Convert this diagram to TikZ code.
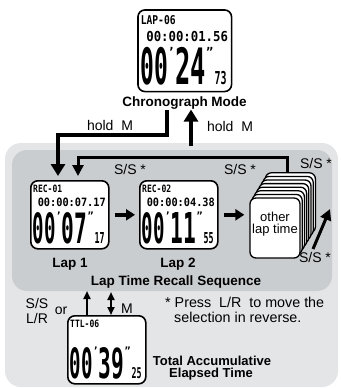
\documentclass[tikz,border=0pt]{standalone}
\usepackage{fontspec}
\setmainfont{Liberation Sans}
\newfontfamily\lcdfont{DejaVu Sans Mono}
\usetikzlibrary{arrows.meta,calc}
\definecolor{outergray}{HTML}{E3E5E7}
\definecolor{innergray}{HTML}{CACDD0}

\newcommand\lcdpanel[9]{%
\begin{scope}[shift={(#2,#3)},scale=#4,transform shape]
\node[lcdframe,anchor=north west] (#1) at (0,0) {};
\node[lcdtxt,anchor=north west] at (3,5) {\resizebox{29pt}{7.5pt}{#5}};
\node[lcdtxt,anchor=north east] at (76,18) {\resizebox{68pt}{8.5pt}{#6}};
\node[lcdtxt,anchor=north west] at (2.5,32) {\resizebox{23pt}{31pt}{#7}};
\node[lcdtxt,anchor=north west,font=\lcdfont\bfseries\fontsize{10}{10}\selectfont] at (25.3,31.5) {’};
\node[lcdtxt,anchor=north west] at (31.5,32) {\resizebox{25.5pt}{31pt}{#8}};
\node[lcdtxt,anchor=north west,font=\lcdfont\bfseries\fontsize{10}{10}\selectfont] at (57.5,31.5) {”};
\node[lcdtxt,anchor=south west] at (64.5,63.5) {\resizebox{10pt}{11pt}{#9}};
\end{scope}}

\begin{document}
\begin{tikzpicture}[x=1pt,y=-1pt,
 lcdframe/.style={draw,line width=1.6pt,fill=white,rounded corners=7pt,minimum width=78pt,minimum height=68pt,inner sep=0pt},
 lcdtxt/.style={inner sep=0pt,font=\lcdfont\bfseries},
 lbl/.style={inner sep=0pt,font=\fontsize{14}{16}\selectfont},
 blbl/.style={inner sep=0pt,font=\bfseries\fontsize{13.5}{15}\selectfont},
 card/.style={draw,line width=1.3pt,fill=white,rounded corners=6pt,minimum width=50pt,minimum height=60pt,inner sep=0pt},
 bigarrow/.style={line width=4.5pt,-{Triangle[width=14pt,length=12pt]}},
 midarrow/.style={line width=3pt,-{Triangle[width=11pt,length=11pt]}},
 laparrow/.style={line width=4pt,-{Triangle[width=11pt,length=9pt]}},
 thinarrow/.style={line width=2.2pt,-{Triangle[width=7pt,length=8pt]}},
 dblarrow/.style={line width=2.2pt,{Triangle[width=7pt,length=8pt]}-{Triangle[width=7pt,length=8pt]}}
]
\useasboundingbox (0,0) rectangle (340,388);
\fill[outergray,rounded corners=16pt] (5,143) rectangle (338,387);
\fill[innergray,rounded corners=15pt] (12,150) rectangle (332,291);

% chronograph
\lcdpanel{chrono}{137}{9}{1.2}{LAP-06}{00:00:01.56}{00}{24}{73}
\node[blbl,anchor=base] (chronolab) at (184.5,106.5) {Chronograph Mode};

\coordinate (hmA) at (167,135);
\coordinate (hmB) at (58,135);
\coordinate (upA) at (191,146);

% laps
\lcdpanel{lap1}{30}{180}{1}{REC-01}{00:00:07.17}{00}{07}{17}
\lcdpanel{lap2}{139}{180}{1}{REC-02}{00:00:04.38}{00}{11}{55}

\draw[bigarrow,shorten >=4pt] (chronolab.south -| hmA) -- (hmA) -- (hmB) -- (lap1.north -| hmB);
\node[lbl,anchor=base] at (110,130) {hold\ \ M};
\draw[bigarrow] (upA) -- (chronolab.south -| upA);
\node[lbl,anchor=base] at (230,131) {hold\ \ M};

% stack
\foreach \i in {7,6,...,1}{\node[card] (card\i) at ({275+2.2*\i},{228-3.6*\i}) {};}
\node[card] (other) at (275,228) {};
\node[inner sep=0pt,align=center,font=\fontsize{13}{12.5}\selectfont] at (275,224) {other\\lap time};

\coordinate (ssA) at (287,157);
\coordinate (ssB) at (78,157);
\draw[midarrow,shorten >=4pt] (card7.north -| ssA) -- (ssA) -- (ssB) -- (lap1.north -| ssB);
\node[lbl,anchor=base] at (130,174) {S/S *};
\node[lbl,anchor=base] at (240,174) {S/S *};
\node[lbl,anchor=base] at (316,168) {S/S *};

\draw[laparrow,shorten <=5pt,shorten >=4pt] (lap1.east) -- (lap2.west);
\draw[laparrow,shorten <=5pt,shorten >=5pt] (lap2.east) -- (lap2.east -| other.west);

\coordinate (sbA) at (313,249);
\coordinate (sbB) at (330,209);
\draw[midarrow] (sbA) -- (sbB);
\node[lbl,anchor=base] at (315,262) {S/S *};

\node[blbl,anchor=base] at (70,267) {Lap 1};
\node[blbl,anchor=base] at (178,267) {Lap 2};
\node[blbl,anchor=base] at (176,285) {Lap Time Recall Sequence};

% total
\lcdpanel{ttl}{67}{315}{1}{TTL-06}{\phantom{0}}{00}{39}{25}
\coordinate (upB) at (87,291);
\coordinate (dbA) at (111,292);
\draw[thinarrow] (ttl.north -| upB) -- (upB);
\draw[dblarrow] (ttl.north -| dbA) -- (dbA);

\node[lbl,anchor=base] at (37,308) {S/S};
\node[lbl,anchor=base] at (37,323) {L/R};
\node[lbl,anchor=base] at (61,314) {or};
\node[lbl,anchor=base] at (127,313) {M};
\node[lbl,anchor=base west,font=\fontsize{14.3}{16}\selectfont] at (165,307.5) {* Press\ \ L/R\ \ to move the};
\node[lbl,anchor=base west,font=\fontsize{14.3}{16}\selectfont] at (174,322) {selection in reverse.};
\node[blbl,anchor=base,font=\bfseries\fontsize{13}{13}\selectfont] at (212,365) {Total Accumulative};
\node[blbl,anchor=base,font=\bfseries\fontsize{13}{13}\selectfont] at (211,377) {Elapsed Time};
\end{tikzpicture}
\end{document}
